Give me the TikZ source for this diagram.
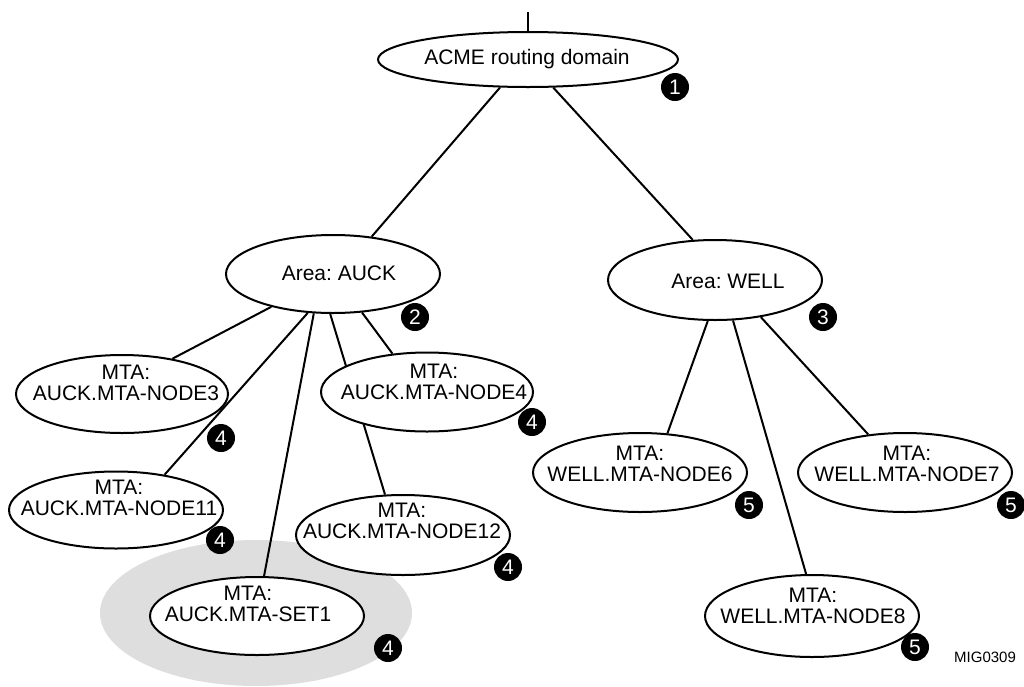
\documentclass[tikz,border=0pt]{standalone}
\usepackage{fontspec}
\setmainfont{Liberation Sans}
\usetikzlibrary{shapes.geometric}
\pgfdeclarelayer{shade}
\pgfdeclarelayer{wires}
\pgfsetlayers{shade,wires,main}
\definecolor{setgray}{RGB}{222,222,222}
\frenchspacing
\begin{document}
\begin{tikzpicture}[x=1pt,y=-1pt,
  oval/.style={ellipse,draw,line width=2pt,fill=white,inner sep=0pt},
  lbl/.style={align=center,font=\fontsize{21}{21.5}\selectfont,inner sep=0pt},
  badge/.style={circle,fill=black,text=white,minimum size=28pt,inner sep=0pt,font=\fontsize{21}{21}\selectfont},
  wire/.style={line width=2pt}]
\path[use as bounding box] (0,0) rectangle (1024,686);

% shaded set region
\begin{pgfonlayer}{shade}
\node[ellipse,fill=setgray,minimum width=312pt,minimum height=146pt,inner sep=0pt] (halo) at (256,613) {};
\end{pgfonlayer}

% ellipses
\node[oval,minimum width=300pt,minimum height=55pt] (acme) at (528,59.5) {};
\node[oval,minimum width=214pt,minimum height=78pt] (auck) at (333,274) {};
\node[oval,minimum width=214pt,minimum height=80pt] (well) at (715,280) {};
\node[oval,minimum width=212pt,minimum height=78pt] (n3) at (122,394) {};
\node[oval,minimum width=212pt,minimum height=79pt] (n4) at (427,392) {};
\node[oval,minimum width=214pt,minimum height=77pt] (n11) at (116,510) {};
\node[oval,minimum width=214pt,minimum height=80pt] (n12) at (403,535) {};
\node[oval,minimum width=214pt,minimum height=78pt] (set1) at (257,616) {};
\node[oval,minimum width=214pt,minimum height=79pt] (n6) at (640,472.5) {};
\node[oval,minimum width=214pt,minimum height=79pt] (n7) at (905,472.5) {};
\node[oval,minimum width=214pt,minimum height=82pt] (n8) at (812,616) {};

% texts
\node[lbl] (acmet) at (527,59) {ACME routing domain};
\node[lbl] (aucktx) at (339,273) {Area: AUCK};
\node[lbl] (welltx) at (728,281) {Area: WELL};
\node[lbl] (n3t) at (126,383) {MTA:\\AUCK.MTA-NODE3};
\node[lbl] (n4t) at (434,382) {MTA:\\AUCK.MTA-NODE4};
\node[lbl] (n11t) at (119,498) {MTA:\\AUCK.MTA-NODE11};
\node[lbl] (n12t) at (402,521) {MTA:\\AUCK.MTA-NODE12};
\node[lbl] (set1t) at (248,604) {MTA:\\AUCK.MTA-SET1};
\node[lbl] (n6t) at (640,464) {MTA:\\WELL.MTA-NODE6};
\node[lbl] (n7t) at (907,464) {MTA:\\WELL.MTA-NODE7};
\node[lbl] (n8t) at (813,606) {MTA:\\WELL.MTA-NODE8};

% connectors
\coordinate (topend) at (528,12);
\begin{pgfonlayer}{wires}
\draw[wire] (topend) -- (acme.north);
\draw[wire] (acme.-135.5) -- (auck.44.3);
\draw[wire] (acme.-48.7) -- (well.119.4);
\draw[wire] (auck.-152.4) -- (n3.35.2);
\draw[wire] (auck.-123) -- (n11.36.2);
\draw[wire] (auck.-116) -- (set1.80);
\draw[wire] (auck.-94) -- (n12.114);
\draw[wire] (auck.-53) -- (n4.132.6);
\draw[wire] (well.-100.8) -- (n6.55.6);
\draw[wire] (well.-66.3) -- (n8.98.3);
\draw[wire] (well.-39) -- (n7.134.6);
\end{pgfonlayer}

% badges
\node[badge] (b1) at (675,87) {1};
\node[badge] (b2) at (415,317) {2};
\node[badge] (b3) at (823,317) {3};
\node[badge] (b4a) at (221,438) {4};
\node[badge] (b4b) at (532,422) {4};
\node[badge] (b4c) at (220,540) {4};
\node[badge] (b4d) at (508,567) {4};
\node[badge] (b4e) at (388,648) {4};
\node[badge] (b5a) at (749,505) {5};
\node[badge] (b5b) at (1011,505) {5};
\node[badge] (b5c) at (915,647) {5};

\node[font=\fontsize{15}{15}\selectfont,inner sep=0pt] (mig) at (985,657) {MIG0309};
\end{tikzpicture}
\end{document}
